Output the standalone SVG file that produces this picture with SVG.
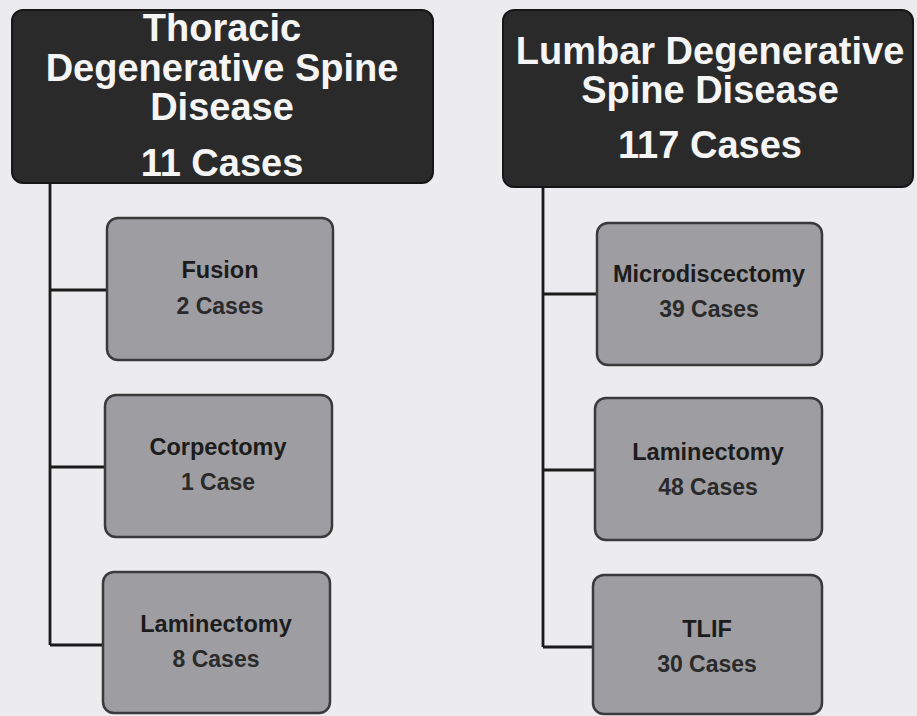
<svg xmlns="http://www.w3.org/2000/svg" width="917" height="716" viewBox="0 0 917 716">
<style>
.bg{fill:#ececef}
.hdr{fill:#2a2a2a;stroke:#161616;stroke-width:2}
.box{fill:#9e9ea2;stroke:#3a3a3a;stroke-width:2.5}
.ht{font-family:"Liberation Sans",Arial,sans-serif;font-weight:bold;font-size:38px;fill:#f5f5f5;text-anchor:middle}
.bt{font-family:"Liberation Sans",Arial,sans-serif;font-weight:bold;font-size:23.5px;fill:#1c1c1c;text-anchor:middle}
.bc{font-family:"Liberation Sans",Arial,sans-serif;font-weight:bold;font-size:23px;fill:#2a2a2a;text-anchor:middle}
.conn{fill:none;stroke:#1a1a1a;stroke-width:2.8}
</style>
<rect class="bg" x="0" y="0" width="917" height="716"/>
<g id="connectors">
<path class="conn" d="M50 183 V645 M50 290 H107 M50 467 H105 M50 645 H103"/>
<path class="conn" d="M543 187 V647 M543 294 H597 M543 470 H595 M543 647 H593"/>
</g>
<g id="thoracic">
<rect class="hdr" x="12" y="10" width="421" height="173" rx="11"/>
<text class="ht" x="222" y="41">Thoracic</text>
<text class="ht" x="222" y="81">Degenerative Spine</text>
<text class="ht" x="222" y="120">Disease</text>
<text class="ht" x="222" y="176">11 Cases</text>
</g>
<g id="lumbar">
<rect class="hdr" x="503" y="10" width="410" height="177" rx="11"/>
<text class="ht" x="710" y="64">Lumbar Degenerative</text>
<text class="ht" x="710" y="103">Spine Disease</text>
<text class="ht" x="710" y="158">117 Cases</text>
</g>
<g id="fusion">
<rect class="box" x="107" y="218" width="226" height="142" rx="11"/>
<text class="bt" x="220" y="278">Fusion</text>
<text class="bc" x="220" y="314">2 Cases</text>
</g>
<g id="corpectomy">
<rect class="box" x="105" y="395" width="227" height="142" rx="11"/>
<text class="bt" x="218" y="455">Corpectomy</text>
<text class="bc" x="218" y="490">1 Case</text>
</g>
<g id="laminectomy-t">
<rect class="box" x="103" y="572" width="227" height="141" rx="11"/>
<text class="bt" x="216" y="632">Laminectomy</text>
<text class="bc" x="216" y="667">8 Cases</text>
</g>
<g id="microdiscectomy">
<rect class="box" x="597" y="223" width="225" height="142" rx="11"/>
<text class="bt" x="709" y="282">Microdiscectomy</text>
<text class="bc" x="709" y="317">39 Cases</text>
</g>
<g id="laminectomy-l">
<rect class="box" x="595" y="398" width="227" height="142" rx="11"/>
<text class="bt" x="708" y="460">Laminectomy</text>
<text class="bc" x="708" y="495">48 Cases</text>
</g>
<g id="tlif">
<rect class="box" x="593" y="575" width="229" height="139" rx="11"/>
<text class="bt" x="707" y="637">TLIF</text>
<text class="bc" x="707" y="672">30 Cases</text>
</g>
</svg>
